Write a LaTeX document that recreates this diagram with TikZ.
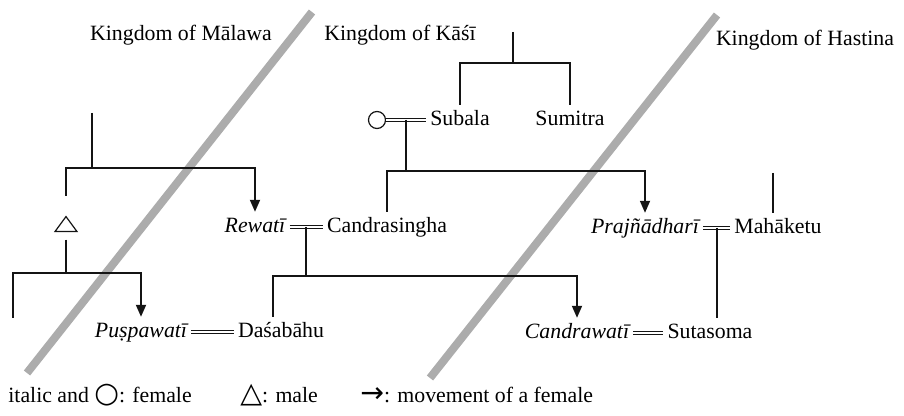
\documentclass[tikz,border=0pt]{standalone}
\usepackage{fontspec}
\setmainfont{Liberation Serif}
\newfontfamily\symfont[Scale=1.3]{DejaVu Sans}
\usetikzlibrary{arrows.meta,shapes.geometric}
\definecolor{ink}{RGB}{20,20,20}
\definecolor{haze}{RGB}{172,172,172}
\tikzset{
  >={Triangle[length=6pt,width=5pt]},
  kin/.style={draw=ink,line width=0.9pt},
  move/.style={kin,->},
  wed/.style={draw=ink,double,double distance=1.1pt,line width=0.55pt},
  person/.style={font=\fontsize{10.9}{13}\selectfont,inner xsep=2pt,inner ysep=2.5pt,
    text height=7.6pt,text depth=2.2pt},
  fem/.style={person,font=\fontsize{10.9}{13}\selectfont\itshape},
  realm/.style={person},
  band/.style={draw=haze,line width=4pt},
  sign/.style={draw=ink,line width=0.6pt,inner sep=0pt},
}

\begin{document}
\begin{tikzpicture}[x=0.5pt,y=-0.5pt]
  \useasboundingbox (0,0) rectangle (904,416);
  % borders between the kingdoms
  \coordinate (b1s) at (27,373);
  \coordinate (b1e) at (312,12);
  \coordinate (b2s) at (430,378);
  \coordinate (b2e) at (717,15);
  \draw[band] (b1s) -- (b1e);
  \draw[band] (b2s) -- (b2e);

  \node[realm] (malawa) at (181,35) {Kingdom of Mālawa};
  \node[realm] (kasi) at (400,35) {Kingdom of Kāśī};
  \node[realm] (hastina) at (805,40) {Kingdom of Hastina};

  % persons
  \node[sign,circle,minimum size=8.5pt] (mom) at (377,120) {};
  \node[person] (subala) at (460,120) {Subala};
  \node[person] (sumitra) at (570,120) {Sumitra};
  \node[sign,isosceles triangle,shape border rotate=90,isosceles triangle stretches,
    minimum width=11pt,minimum height=7.5pt,outer sep=4pt] (tri) at (66,226) {};
  \node[fem] (rewati) at (255,227) {Rewatī};
  \node[person] (candra) at (387,227) {Candrasingha};
  \node[fem] (prajna) at (645,228) {Prajñādharī};
  \node[person] (maha) at (778,228) {Mahāketu};
  \node[fem] (puspa) at (141,332) {Puṣpawatī};
  \node[person] (dasa) at (281,332) {Daśabāhu};
  \node[fem] (cwati) at (577,333) {Candrawatī};
  \node[person] (suta) at (710,333) {Sutasoma};

  % Malawa
  \coordinate (m1) at (92,113);
  \coordinate (m2) at (92,168);
  \draw[kin] (m1) -- (m2);
  \draw[kin] (m2) -| (tri);
  \draw[move] (m2) -| (rewati);
  \coordinate (t2) at (66,273);
  \coordinate (cut) at (13,318);
  \draw[kin] (tri) -- (t2);
  \draw[kin] (t2) -| (cut);
  \draw[move] (t2) -| (puspa);

  % Kasi
  \coordinate (k1) at (513,32);
  \coordinate (k2) at (513,63);
  \draw[kin] (k1) -- (k2);
  \draw[kin] (k2) -| (subala);
  \draw[kin] (k2) -| (sumitra);
  \draw[wed] (mom) -- coordinate (ms) (subala);
  \coordinate (kbar) at (0,171);
  \draw[kin] (ms) -- (ms |- kbar) coordinate (k3);
  \draw[kin] (k3) -| (candra);
  \draw[move] (k3) -| (prajna);

  \draw[wed] (rewati) -- coordinate (rc) (candra);
  \coordinate (cbar) at (0,276);
  \draw[kin] (rc) -- (rc |- cbar) coordinate (c3);
  \draw[kin] (c3) -| ([xshift=-4pt]dasa.north);
  \draw[move] (c3) -| (cwati);
  \draw[wed] (puspa) -- (dasa);

  % Hastina
  \coordinate (h1) at (773,173);
  \draw[kin] (h1) -- (h1 |- maha.north);
  \draw[wed] (prajna) -- coordinate (pm) (maha);
  \draw[kin] (pm) -- (pm |- suta.north);
  \draw[wed] (cwati) -- (suta);

  % key
  \node[person,anchor=west] (keyfem) at (4,397) {italic and {\symfont ○}: female};
  \node[person,anchor=west] (keymale) at (236,397) {{\symfont △}: male};
  \node[person,anchor=west] (keymove) at (356,397) {{\symfont →}: movement of a female};
\end{tikzpicture}
\end{document}
